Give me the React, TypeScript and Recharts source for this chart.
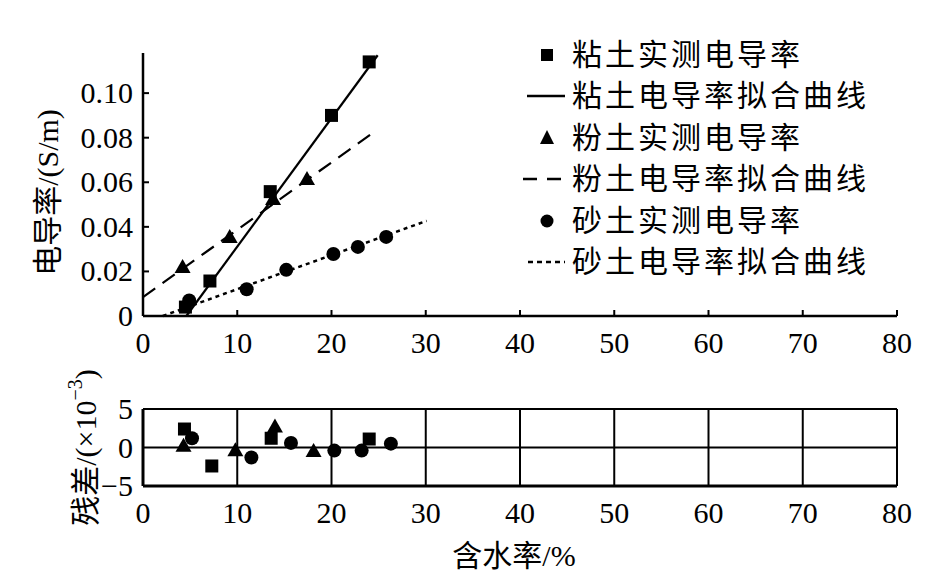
import React from "react";
import { ComposedChart, Scatter, Line, XAxis, YAxis, CartesianGrid, Legend } from "recharts";

const FONT = "'Liberation Serif', 'DejaVu Serif', 'Noto Sans CJK SC', serif";
const txt = { fontFamily: FONT, fontSize: 30 };

const xTicks = [0, 10, 20, 30, 40, 50, 60, 70, 80];
const yTicks = [0, 0.02, 0.04, 0.06, 0.08, 0.1];
const resTicks = [-5, 0, 5];

// measured conductivity (S/m)
const clayX = [4.5, 7.1, 13.5, 20.0, 24.0];
const clayY = [0.004, 0.0157, 0.0558, 0.09, 0.114];
const siltX = [4.2, 9.2, 13.8, 17.4];
const siltY = [0.0215, 0.035, 0.052, 0.061];
const sandX = [4.9, 11.0, 15.2, 20.2, 22.8, 25.8];
const sandY = [0.007, 0.012, 0.0207, 0.0278, 0.031, 0.0355];

// fitted lines, end points
const clayFitX = [4.6, 24.9];
const clayFitY = [0, 0.117];
const siltFitX = [0, 24.6];
const siltFitY = [0.0085, 0.0828];
const sandFitX = [2.1, 30.1];
const sandFitY = [0, 0.0427];

// residuals (x10^-3)
const clayResX = [4.4, 7.3, 13.6, 24.0];
const clayResY = [2.4, -2.4, 1.2, 1.1];
const siltResX = [4.3, 9.8, 14.0, 18.1];
const siltResY = [0.1, -0.5, 2.6, -0.6];
const sandResX = [5.2, 11.5, 15.7, 20.3, 23.2, 26.3];
const sandResY = [1.2, -1.3, 0.6, -0.4, -0.4, 0.5];

const legendItems = [
  { name: "粘土实测电导率", kind: "square" },
  { name: "粘土电导率拟合曲线", kind: "solid" },
  { name: "粉土实测电导率", kind: "triangle" },
  { name: "粉土电导率拟合曲线", kind: "dash" },
  { name: "砂土实测电导率", kind: "circle" },
  { name: "砂土电导率拟合曲线", kind: "dot" },
];

const pts = (xs: number[], ys: number[]) => xs.map((x, i) => ({ x, y: ys[i] }));

const SquareShape = (p: any) => <rect x={p.cx - 6.5} y={p.cy - 6.5} width={13} height={13} fill="#000" />;
const CircleShape = (p: any) => <circle cx={p.cx} cy={p.cy} r={7} fill="#000" />;
const TriangleShape = (p: any) => (
  <polygon points={`${p.cx},${p.cy - 9} ${p.cx + 8},${p.cy + 5} ${p.cx - 8},${p.cy + 5}`} fill="#000" />
);

const XTick = ({ x, y, payload, inward }: any) => (
  <g>
    {inward && payload.value !== 0 && <line x1={x} y1={y} x2={x} y2={y - 6} stroke="#000" strokeWidth={2} />}
    <text x={x} y={y + 37} textAnchor="middle" style={txt} fill="#000">
      {payload.value}
    </text>
  </g>
);

const YTickTop = ({ x, y, payload }: any) => (
  <g>
    {payload.value !== 0 && <line x1={x} y1={y} x2={x + 6} y2={y} stroke="#000" strokeWidth={2} />}
    <text x={x - 10} y={y + 10} textAnchor="end" style={txt} fill="#000">
      {payload.value === 0 ? "0" : payload.value.toFixed(2)}
    </text>
  </g>
);

const YTickRes = ({ x, y, payload }: any) => (
  <text x={x - 10} y={y + 10} textAnchor="end" style={txt} fill="#000">
    {payload.value < 0 ? `\u2212${-payload.value}` : payload.value}
  </text>
);

const LegendSymbol = ({ kind }: { kind: string }) => {
  if (kind === "square") return <rect x={19} y={9} width={12} height={12} fill="#000" />;
  if (kind === "circle") return <circle cx={25} cy={15} r={6.5} fill="#000" />;
  if (kind === "triangle") return <polygon points="25,7 32,21 18,21" fill="#000" />;
  const dash = kind === "dash" ? "14 10" : kind === "dot" ? "5 4" : undefined;
  const x1 = kind === "dot" ? 6 : kind === "dash" ? 1 : 5;
  return <line x1={x1} y1={15} x2={43} y2={15} stroke="#000" strokeWidth={2.5} strokeDasharray={dash} />;
};

const LegendContent = () => (
  <div style={{ fontFamily: FONT, fontSize: 30, letterSpacing: 3, color: "#000" }}>
    {legendItems.map((it) => (
      <div key={it.name} style={{ display: "flex", alignItems: "center", height: 41.5 }}>
        <svg width={50} height={30} style={{ flex: "none" }}>
          <LegendSymbol kind={it.kind} />
        </svg>
        <span style={{ lineHeight: "30px", whiteSpace: "nowrap" }}>{it.name}</span>
      </div>
    ))}
  </div>
);

const axisStroke = { stroke: "#000", strokeWidth: 2.5 };

export default function App() {
  return (
    <div style={{ position: "absolute", left: 0, top: 0, width: 933, height: 581, background: "#fff", fontFamily: FONT }}>
      <div style={{ position: "absolute", left: 0, top: 0 }}>
        <ComposedChart width={933} height={370} margin={{ top: 53, right: 36, bottom: 24, left: 83 }}>
          <XAxis
            dataKey="x"
            type="number"
            domain={[0, 80]}
            ticks={xTicks}
            height={30}
            tickSize={0}
            tickMargin={0}
            tickLine={false}
            axisLine={axisStroke}
            tick={(p: any) => <XTick {...p} inward />}
          />
          <YAxis
            dataKey="y"
            type="number"
            domain={[0, 0.118]}
            ticks={yTicks}
            width={60}
            tickSize={0}
            tickMargin={0}
            tickLine={false}
            axisLine={axisStroke}
            tick={(p: any) => <YTickTop {...p} />}
            label={{
              content: ({ viewBox }: any) => {
                const cx = viewBox.x + viewBox.width - 96;
                const cy = viewBox.y + viewBox.height / 2 + 8;
                return (
                  <text
                    x={cx}
                    y={cy}
                    transform={`rotate(-90 ${cx} ${cy})`}
                    textAnchor="middle"
                    dominantBaseline="central"
                    style={txt}
                    fill="#000"
                  >
                    电导率/(S/m)
                  </text>
                );
              },
            }}
          />
          <Legend
            layout="vertical"
            align="center"
            verticalAlign="middle"
            content={() => <LegendContent />}
            wrapperStyle={{ top: 34, left: 522, width: 400, height: 250 }}
          />
          <Line data={pts(clayFitX, clayFitY)} dataKey="y" stroke="#000" strokeWidth={2.2} dot={false} isAnimationActive={false} legendType="none" />
          <Line data={pts(siltFitX, siltFitY)} dataKey="y" stroke="#000" strokeWidth={2.2} strokeDasharray="15 9" dot={false} isAnimationActive={false} legendType="none" />
          <Line data={pts(sandFitX, sandFitY)} dataKey="y" stroke="#000" strokeWidth={2.5} strokeDasharray="4 4" dot={false} isAnimationActive={false} legendType="none" />
          <Scatter data={pts(siltX, siltY)} shape={TriangleShape} isAnimationActive={false} legendType="none" />
          <Scatter data={pts(clayX, clayY)} shape={SquareShape} isAnimationActive={false} legendType="none" />
          <Scatter data={pts(sandX, sandY)} shape={CircleShape} isAnimationActive={false} legendType="none" />
        </ComposedChart>
      </div>
      <div style={{ position: "absolute", left: 0, top: 360 }}>
        <ComposedChart width={933} height={211} margin={{ top: 49, right: 36, bottom: 55, left: 83 }}>
          <CartesianGrid stroke="#000" strokeWidth={2} horizontal vertical />
          <XAxis
            dataKey="x"
            type="number"
            domain={[0, 80]}
            ticks={xTicks}
            height={30}
            tickSize={0}
            tickMargin={0}
            tickLine={false}
            axisLine={{ stroke: "#000", strokeWidth: 3 }}
            tick={(p: any) => <XTick {...p} />}
            label={{
              content: ({ viewBox }: any) => (
                <text
                  x={viewBox.x + viewBox.width / 2 - 6}
                  y={viewBox.y + 69}
                  textAnchor="middle"
                  dominantBaseline="central"
                  style={txt}
                  fill="#000"
                >
                  含水率/%
                </text>
              ),
            }}
          />
          <YAxis
            dataKey="y"
            type="number"
            domain={[-5, 5]}
            ticks={resTicks}
            width={60}
            tickSize={0}
            tickMargin={0}
            tickLine={false}
            axisLine={{ stroke: "#000", strokeWidth: 3 }}
            tick={(p: any) => <YTickRes {...p} />}
            label={{
              content: ({ viewBox }: any) => {
                const cx = viewBox.x + viewBox.width - 58;
                const cy = viewBox.y + viewBox.height / 2;
                return (
                  <text
                    x={cx}
                    y={cy}
                    transform={`rotate(-90 ${cx} ${cy})`}
                    textAnchor="middle"
                    dominantBaseline="central"
                    style={txt}
                    fill="#000"
                  >
                    残差/(×10
                    <tspan dy={-10} fontSize={20}>−3</tspan>
                    <tspan dy={10}>)</tspan>
                  </text>
                );
              },
            }}
          />
          <Scatter data={pts(clayResX, clayResY)} shape={SquareShape} isAnimationActive={false} />
          <Scatter data={pts(siltResX, siltResY)} shape={TriangleShape} isAnimationActive={false} />
          <Scatter data={pts(sandResX, sandResY)} shape={CircleShape} isAnimationActive={false} />
        </ComposedChart>
      </div>
    </div>
  );
}
